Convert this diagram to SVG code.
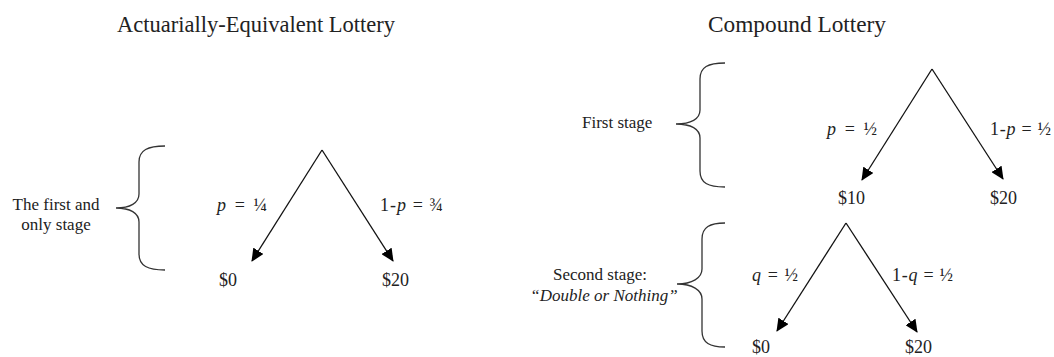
<svg xmlns="http://www.w3.org/2000/svg" width="1054" height="357" viewBox="0 0 1054 357">
<style>
text{font-family:"Liberation Serif","DejaVu Serif",serif;fill:#222;}
.title{font-size:22.5px;}
.lbl{font-size:17px;}
.val{font-size:18px;}
.it{font-style:italic;}
.edge{stroke:#111;stroke-width:1.3;fill:none;marker-end:url(#ah);}
.brace{stroke:#333;stroke-width:1.3;fill:none;}
</style>
<defs>
<marker id="ah" markerWidth="13" markerHeight="12" refX="12" refY="6" orient="auto" markerUnits="userSpaceOnUse">
<path d="M0,0 L13,6 L0,12 z" fill="#000"/>
</marker>
</defs>
<g id="titles">
<text class="title" x="117" y="32" textLength="278" lengthAdjust="spacingAndGlyphs">Actuarially-Equivalent Lottery</text>
<text class="title" x="708" y="32" textLength="178" lengthAdjust="spacingAndGlyphs">Compound Lottery</text>
</g>
<g id="brace-left">
<path class="brace" d="M165,146 C148,146 139,150 139,162 L139,194 C139,203 130,208 116,208 C130,208 139,213 139,222 L139,254 C139,266 148,270 165,270"/>
<text class="lbl" x="56" y="210" text-anchor="middle">The first and</text>
<text class="lbl" x="56" y="230" text-anchor="middle">only stage</text>
</g>
<g id="brace-first">
<path class="brace" d="M725,63 C708,63 700,67 700,79 L700,110 C700,119 691,124 676,124 C691,124 700,129 700,138 L700,171 C700,183 708,187 725,187"/>
<text class="lbl" x="582" y="128">First stage</text>
</g>
<g id="brace-second">
<path class="brace" d="M725,223 C710,223 702,227 702,239 L702,269 C702,278 692,284 677,284 C692,284 702,290 702,299 L702,331 C702,343 710,347 725,347"/>
<text class="lbl" x="600" y="280" text-anchor="middle">Second stage:</text>
<text class="lbl it" x="604" y="301" text-anchor="middle">“Double or Nothing”</text>
</g>
<g id="connectors">
<line class="edge" x1="322" y1="150" x2="252" y2="261"/>
<line class="edge" x1="322" y1="150" x2="393" y2="261"/>
<line class="edge" x1="932" y1="69" x2="862" y2="180"/>
<line class="edge" x1="932" y1="69" x2="1003" y2="179"/>
<line class="edge" x1="846" y1="223" x2="777" y2="331"/>
<line class="edge" x1="846" y1="223" x2="917" y2="332"/>
</g>
<g id="labels-left">
<text class="val" x="217" y="211" textLength="50"><tspan class="it">p</tspan> = ¼</text>
<text class="val" x="380" y="211" textLength="63">1-<tspan class="it">p</tspan> = ¾</text>
</g>
<g id="node-left-0"><text class="val" x="219" y="286">$0</text></g>
<g id="node-left-20"><text class="val" x="382" y="286">$20</text></g>
<g id="labels-first">
<text class="val" x="827" y="135" textLength="50"><tspan class="it">p</tspan> = ½</text>
<text class="val" x="990" y="135" textLength="61">1-<tspan class="it">p</tspan> = ½</text>
</g>
<g id="node-10"><text class="val" x="838" y="204">$10</text></g>
<g id="node-20a"><text class="val" x="990" y="204">$20</text></g>
<g id="labels-second">
<text class="val" x="752" y="281" textLength="46"><tspan class="it">q</tspan> = ½</text>
<text class="val" x="892" y="281" textLength="61">1-<tspan class="it">q</tspan> = ½</text>
</g>
<g id="node-0b"><text class="val" x="752" y="353">$0</text></g>
<g id="node-20b"><text class="val" x="905" y="353">$20</text></g>
</svg>
